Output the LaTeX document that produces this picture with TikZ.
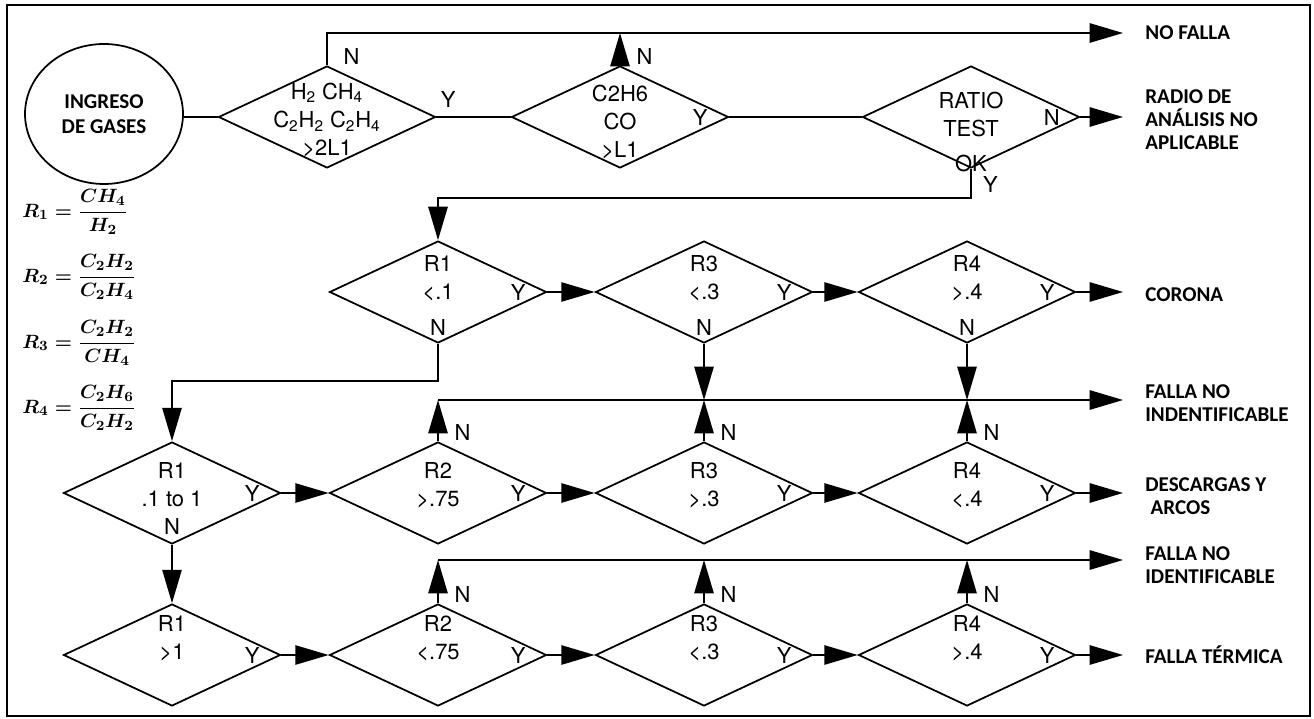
\documentclass[tikz,border=0pt]{standalone}
\usepackage{fontspec}
\usepackage{amsmath}
\usetikzlibrary{shapes.geometric,arrows.meta}
\newfontfamily\heros{TeX Gyre Heros}
\newfontfamily\calib{Carlito}
\newcommand{\ix}[1]{\textsubscript{#1}}
\newcommand{\rform}[3]{{\boldmath$R_{#1}=\dfrac{#2}{#3}$}}

\begin{document}
\begin{tikzpicture}[x=0.02cm,y=-0.02cm,
  dia/.style={draw,diamond,line width=1pt,inner sep=0pt,
    minimum width=4.34cm,minimum height=2.04cm},
  txt/.style={font=\fontsize{12.5}{16}\selectfont\heros,align=center,inner sep=0pt},
  dtxt/.style 2 args={label={[txt,yshift=#1]center:{#2}}},
  yin/.style={label={[txt,label distance=-21pt]right:#1}},
  nbot/.style={label={[txt,label distance=-14pt]below:N}},
  ntop/.style={label={[txt,xshift=14pt,label distance=0pt]above:N}},
  res/.style={anchor=west,inner sep=0pt,align=left,
    font=\fontsize{12}{13}\selectfont\calib\bfseries},
  frm/.style={anchor=west,inner sep=0pt,font=\fontsize{11}{12}\selectfont},
  ln/.style={line width=1pt},
  arr/.style={-{Triangle[length=19pt,width=11pt]},line width=1pt},
  exitarr/.style={arr,shorten >=12.5pt}]

  \useasboundingbox (0,0) rectangle (1314,719);
  \draw[line width=1.3pt] (7,5) rectangle (1310,716);

  % entrada y primera fila
  \node[draw,ellipse,line width=1pt,minimum width=3.16cm,minimum height=2.8cm,
    align=center,font=\fontsize{12}{14}\selectfont\calib\bfseries] (ing) at (104,114) {INGRESO\\DE GASES};
  \node[dia,dtxt={-1.7pt}{H\ix{2} CH\ix{4}\\C\ix{2}H\ix{2} C\ix{2}H\ix{4}\\>2L1},ntop,
    label={[txt,xshift=2.3pt,yshift=10pt]right:Y}] (d1) at (327,117) {};
  \node[dia,dtxt={-3pt}{C2H6\\CO\\>L1},ntop,yin=Y] (d2) at (620,117) {};
  \node[dia,dtxt={-8.5pt}{RATIO\\TEST\\[4pt]OK},yin=N,
    label={[txt,xshift=11pt,label distance=4pt]below:Y}] (d3) at (971,117) {};

  % ratios
  \node[frm] (r1) at (22,212) {\rform{1}{CH_4}{H_2}};
  \node[frm] (r2) at (22,277) {\rform{2}{C_2H_2}{C_2H_4}};
  \node[frm] (r3) at (22,343) {\rform{3}{C_2H_2}{CH_4}};
  \node[frm] (r4) at (22,408) {\rform{4}{C_2H_6}{C_2H_2}};

  % filas de relaciones
  \node[dia,dtxt={7.7pt}{R1\\<.1},yin=Y,nbot] (d4) at (438,292) {};
  \node[dia,dtxt={7.7pt}{R3\\<.3},yin=Y,nbot] (d5) at (704,292) {};
  \node[dia,dtxt={7.7pt}{R4\\>.4},yin=Y,nbot] (d6) at (967,292) {};

  \node[dia,dtxt={-3pt}{R1\\.1 to 1\\N},yin=Y] (d7) at (172,493) {};
  \node[dia,dtxt={4.5pt}{R2\\>.75},yin=Y,ntop] (d8) at (438,493) {};
  \node[dia,dtxt={4.5pt}{R3\\>.3},yin=Y,ntop] (d9) at (704,493) {};
  \node[dia,dtxt={4.5pt}{R4\\<.4},yin=Y,ntop] (d10) at (967,493) {};

  \node[dia,dtxt={9.6pt}{R1\\>1},yin=Y] (d11) at (172,655) {};
  \node[dia,dtxt={9.6pt}{R2\\<.75},yin=Y,ntop] (d12) at (438,655) {};
  \node[dia,dtxt={9.6pt}{R3\\<.3},yin=Y,ntop] (d13) at (704,655) {};
  \node[dia,dtxt={9.6pt}{R4\\>.4},yin=Y,ntop] (d14) at (967,655) {};

  % resultados
  \node[res] (nofalla) at (1145,33) {NO FALLA};
  \node[res] (noapl) at (1145,120) {RADIO DE\\ANÁLISIS NO\\APLICABLE};
  \node[res] (corona) at (1145,295) {CORONA};
  \node[res] (fni1) at (1145,403) {FALLA NO\\INDENTIFICABLE};
  \node[res] (desc) at (1145,496) {DESCARGAS Y\\\hspace*{3pt}ARCOS};
  \node[res] (fni2) at (1145,565) {FALLA NO\\IDENTIFICABLE};
  \node[res] (termica) at (1145,655) {FALLA TÉRMICA};

  \coordinate (j1) at (438,400);
  \coordinate (j2) at (438,560);

  \draw[ln] (ing.east |- d1.west) -- (d1.west);
  \draw[ln] (d1.east) -- (d2.west);
  \draw[ln] (d2.east) -- (d3.west);
  \draw[exitarr] (d1.north) |- (nofalla.west);
  \draw[arr] (d2.north) -- (d2.north |- nofalla.west);
  \draw[exitarr] (d3.east) -- (d3.east -| noapl.west);
  \draw[arr] (d3.south) -- ++(0,29) -| (d4.north);

  \draw[arr] (d4.east) -- (d5.west);
  \draw[arr] (d5.east) -- (d6.west);
  \draw[exitarr] (d6.east) -- (d6.east -| corona.west);
  \draw[arr] (d4.south) -- ++(0,37) -| (d7.north);

  \draw[arr] (d7.east) -- (d8.west);
  \draw[arr] (d8.east) -- (d9.west);
  \draw[arr] (d9.east) -- (d10.west);
  \draw[exitarr] (d10.east) -- (d10.east -| desc.west);
  \draw[arr] (d7.south) -- (d11.north);

  \draw[arr] (d11.east) -- (d12.west);
  \draw[arr] (d12.east) -- (d13.west);
  \draw[arr] (d13.east) -- (d14.west);
  \draw[exitarr] (d14.east) -- (d14.east -| termica.west);

  \draw[exitarr] (j1) -- (j1 -| fni1.west);
  \draw[exitarr] (j2) -- (j2 -| fni2.west);
  \foreach \d in {d5,d6}
    \draw[arr] (\d.south) -- (\d.south |- j1);
  \foreach \d in {d8,d9,d10}
    \draw[arr] (\d.north) -- (\d.north |- j1);
  \foreach \d in {d12,d13,d14}
    \draw[arr] (\d.north) -- (\d.north |- j2);
\end{tikzpicture}
\end{document}
